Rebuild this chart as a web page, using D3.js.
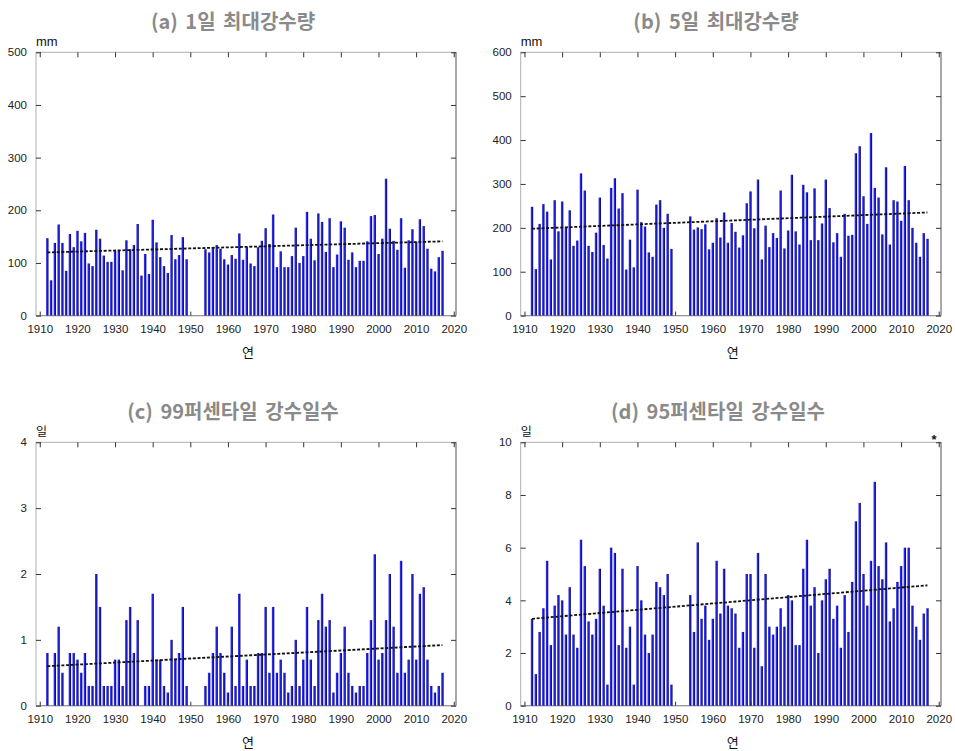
<!DOCTYPE html>
<html>
<head>
<meta charset="utf-8">
<script src="https://cdn.jsdelivr.net/npm/d3@7"></script>
<style>
  html, body { margin: 0; padding: 0; background: #fff; }
  svg { display: block; }
</style>
</head>
<body>
<svg id="chart" width="955" height="751"></svg>
<script>
// Years with observations: 1912–1949 and 1954–2017 (1950–1953 missing)
const yearsEarly = d3.range(1912, 1950);
const yearsLate = d3.range(1954, 2018);
const years = yearsEarly.concat(yearsLate);

// (a) annual maximum 1-day precipitation (mm)
const max1day = [
  147, 67, 138, 173, 138, 85, 155, 130, 161, 141, 157, 99, 94, 163, 146, 114, 102, 102, 123,
  124, 86, 143, 126, 134, 174, 76, 117, 79, 182, 139, 111, 94, 81, 153, 107, 115, 149, 107,
  126, 120, 130, 134, 127, 107, 97, 115, 108, 156, 106, 130, 99, 94, 130, 142, 166, 136, 192,
  92, 122, 92, 92, 113, 167, 100, 113, 197, 146, 105, 194, 178, 121, 185, 92, 116, 179, 167,
  106, 120, 92, 104, 104, 141, 189, 191, 117, 146, 260, 165, 142, 125, 185, 91, 143, 164,
  140, 183, 170, 127, 89, 84, 111, 123
];

// (b) annual maximum 5-day precipitation (mm)
const max5day = [
  248, 106, 209, 254, 237, 128, 263, 192, 260, 200, 240, 159, 171, 324, 285, 159, 145, 189,
  269, 161, 130, 291, 313, 244, 279, 105, 173, 110, 287, 213, 203, 144, 134, 253, 263, 200,
  232, 152,
  226, 196, 201, 197, 208, 151, 166, 222, 178, 235, 166, 211, 191, 155, 183, 256, 283, 199,
  310, 128, 205, 156, 188, 177, 285, 153, 194, 321, 192, 162, 298, 281, 172, 290, 172, 210,
  310, 245, 167, 188, 134, 232, 182, 184, 370, 386, 272, 209, 416, 291, 269, 185, 338, 162,
  263, 260, 216, 341, 263, 200, 166, 134, 188, 175
];

// (c) days above the 99th percentile (days)
const days99 = [
  0.8, 0, 0.8, 1.2, 0.5, 0, 0.8, 0.8, 0.7, 0.5, 0.8, 0.3, 0.3, 2.0, 1.5, 0.3, 0.3, 0.3, 0.7,
  0.7, 0.3, 1.3, 1.5, 0.8, 1.3, 0, 0.3, 0.3, 1.7, 0.7, 0.7, 0.3, 0.2, 1.0, 0.7, 0.8, 1.5, 0.3,
  0.3, 0.5, 0.8, 1.2, 0.8, 0.5, 0.2, 1.2, 0.3, 1.7, 0.3, 0.7, 0.3, 0.3, 0.8, 0.8, 1.5, 0.5,
  1.5, 0.5, 0.7, 0.5, 0.2, 0.3, 1.0, 0.3, 0.7, 1.5, 0.7, 0.3, 1.3, 1.7, 1.2, 1.3, 0.2, 0.5,
  0.8, 1.2, 0.5, 0.3, 0.2, 0.3, 0.3, 0.8, 1.3, 2.3, 0.7, 0.8, 1.3, 2.0, 1.2, 0.5, 2.2, 0.5,
  0.7, 2.0, 0.7, 1.7, 1.8, 0.7, 0.3, 0.2, 0.3, 0.5
];

// (d) days above the 95th percentile (days)
const days95 = [
  3.3, 1.2, 2.8, 3.7, 5.5, 2.3, 3.8, 4.2, 4.0, 2.7, 4.5, 2.7, 2.2, 6.3, 5.3, 3.2, 2.7, 3.3,
  5.2, 3.8, 0.8, 6.0, 5.8, 2.3, 5.2, 2.2, 3.0, 0.8, 5.3, 4.0, 2.7, 2.0, 2.7, 4.7, 4.5, 4.2,
  5.0, 0.8,
  4.2, 2.8, 6.2, 3.3, 3.8, 2.5, 3.3, 5.5, 3.5, 5.2, 3.8, 3.7, 3.5, 2.2, 2.8, 5.0, 5.0, 2.2,
  5.8, 1.5, 5.0, 3.0, 2.7, 3.0, 3.7, 3.0, 4.2, 4.0, 2.3, 2.3, 5.2, 6.3, 3.8, 4.5, 2.0, 4.0,
  4.8, 5.2, 3.3, 3.8, 2.2, 4.2, 2.8, 4.7, 7.0, 7.7, 5.0, 3.8, 5.5, 8.5, 5.3, 4.8, 6.2, 3.2,
  3.7, 4.7, 5.3, 6.0, 6.0, 3.8, 3.0, 2.5, 3.5, 3.7
];

// Linear trend values at 1912 and 2017
const trendYears = [1912, 2017];
const trend1day = [120, 141];
const trend5day = [198, 235];
const trend99 = [0.6, 0.92];
const trend95 = [3.3, 4.57];

// Axis settings
const xTickYears = d3.range(1910, 2021, 10);
const yTicks1day = d3.range(0, 501, 100);
const yTicks5day = d3.range(0, 601, 100);
const yTicks99 = d3.range(0, 5, 1);
const yTicks95 = d3.range(0, 11, 2);

const titles = ["(a) 1일 최대강수량", "(b) 5일 최대강수량", "(c) 99퍼센타일 강수일수", "(d) 95퍼센타일 강수일수"];
const units = ["mm", "mm", "일", "일"];
const xLabel = "연";

const panels = [
  { title: titles[0], unit: units[0], values: max1day, trend: trend1day, ticks: yTicks1day, ymax: 500,
    left: 36, right: 456, top: 52.3, bottom: 315.6, titleX: 233, titleY: 29 },
  { title: titles[1], unit: units[1], values: max5day, trend: trend5day, ticks: yTicks5day, ymax: 600,
    left: 520.7, right: 941, top: 52.3, bottom: 315.6, titleX: 716, titleY: 29 },
  { title: titles[2], unit: units[2], values: days99, trend: trend99, ticks: yTicks99, ymax: 4,
    left: 36, right: 456, top: 442.3, bottom: 705.7, titleX: 233, titleY: 419 },
  { title: titles[3], unit: units[3], values: days95, trend: trend95, ticks: yTicks95, ymax: 10,
    left: 520.7, right: 941, top: 442.3, bottom: 705.7, titleX: 718, titleY: 419, star: true }
];

const svg = d3.select("#chart");
const defs = svg.append("defs");
const grad = defs.append("linearGradient").attr("id", "barFill")
  .attr("x1", "0").attr("x2", "1").attr("y1", "0").attr("y2", "0");
grad.append("stop").attr("offset", "0%").attr("stop-color", "#3a3aff");
grad.append("stop").attr("offset", "45%").attr("stop-color", "#2222d8");
grad.append("stop").attr("offset", "100%").attr("stop-color", "#00005a");

const numFont = "'Liberation Sans', Arial, sans-serif";
const krFont = "'Noto Sans CJK KR', 'Noto Sans', sans-serif";

panels.forEach(p => {
  const g = svg.append("g");
  const x = d3.scaleLinear().domain([1909, 2020.6]).range([p.left, p.right]);
  const y = d3.scaleLinear().domain([0, p.ymax]).range([p.bottom, p.top]);
  const step = x(1911) - x(1910);
  const bw = step * 0.64;

  // Title
  g.append("text")
    .attr("x", p.titleX).attr("y", p.titleY)
    .attr("text-anchor", "middle")
    .attr("font-family", krFont).attr("font-weight", "bold").attr("font-size", 20)
    .attr("word-spacing", 3)
    .attr("fill", "#8a8a8a")
    .text(p.title);

  // Unit label
  g.append("text")
    .attr("x", p.left).attr("y", p.top - 6)
    .attr("font-family", p.unit === "mm" ? numFont : krFont)
    .attr("font-size", p.unit === "mm" ? 13 : 12)
    .attr("fill", "#111")
    .text(p.unit);

  // Frame
  g.append("rect")
    .attr("x", p.left).attr("y", p.top)
    .attr("width", p.right - p.left).attr("height", p.bottom - p.top)
    .attr("fill", "none").attr("stroke", "#b0b0b0").attr("stroke-width", 1);
  g.append("line")
    .attr("x1", p.right).attr("x2", p.right).attr("y1", p.top).attr("y2", p.bottom)
    .attr("stroke", "#999").attr("stroke-width", 1.5);
  g.append("line")
    .attr("x1", p.left).attr("x2", p.right).attr("y1", p.bottom).attr("y2", p.bottom)
    .attr("stroke", "#999").attr("stroke-width", 1.2);

  // Bars
  const data = years.map((yr, i) => ({ year: yr, value: p.values[i] }));
  g.append("g").selectAll("rect").data(data.filter(d => d.value > 0)).join("rect")
    .attr("x", d => x(d.year) - bw / 2)
    .attr("y", d => y(d.value))
    .attr("width", bw)
    .attr("height", d => y(0) - y(d.value))
    .attr("fill", "url(#barFill)");

  // Y axis (left, inward ticks)
  const yAxisL = d3.axisLeft(y).tickValues(p.ticks).tickSize(-5).tickPadding(9).tickFormat(d3.format("d"));
  const gl = g.append("g").attr("transform", `translate(${p.left},0)`).call(yAxisL);
  gl.select(".domain").remove();
  gl.selectAll(".tick line").attr("stroke", "#333");
  gl.selectAll(".tick text").attr("font-family", numFont).attr("font-size", 11.5).attr("fill", "#222");

  // Y axis (right, inward ticks)
  const yAxisR = d3.axisRight(y).tickValues(p.ticks).tickSize(-5).tickFormat("");
  const gr = g.append("g").attr("transform", `translate(${p.right},0)`).call(yAxisR);
  gr.select(".domain").remove();
  gr.selectAll(".tick line").attr("stroke", "#333");

  // X axis (bottom labels, inward ticks)
  const xAxisB = d3.axisBottom(x).tickValues(xTickYears).tickSize(-4).tickPadding(9).tickFormat(d3.format("d"));
  const gb = g.append("g").attr("transform", `translate(0,${p.bottom})`).call(xAxisB);
  gb.select(".domain").remove();
  gb.selectAll(".tick line").attr("stroke", "#333");
  gb.selectAll(".tick text").attr("font-family", numFont).attr("font-size", 11.5).attr("fill", "#222");

  // X axis (top, inward ticks)
  const xAxisT = d3.axisTop(x).tickValues(xTickYears).tickSize(-5).tickFormat("");
  const gt = g.append("g").attr("transform", `translate(0,${p.top})`).call(xAxisT);
  gt.select(".domain").remove();
  gt.selectAll(".tick line").attr("stroke", "#333");

  // Trend line
  const trendData = trendYears.map((yr, i) => [yr, p.trend[i]]);
  g.append("path")
    .datum(trendData)
    .attr("d", d3.line().x(d => x(d[0])).y(d => y(d[1])))
    .attr("fill", "none").attr("stroke", "#111").attr("stroke-width", 1.8)
    .attr("stroke-dasharray", "3,1.7");

  // X label
  g.append("text")
    .attr("x", (p.left + p.right) / 2 + 2).attr("y", p.bottom + 41)
    .attr("text-anchor", "middle")
    .attr("font-family", krFont).attr("font-size", 13).attr("fill", "#111")
    .text(xLabel);

  if (p.star) {
    g.append("text")
      .attr("x", p.right - 7).attr("y", p.top + 2)
      .attr("text-anchor", "middle")
      .attr("font-family", numFont).attr("font-weight", "bold").attr("font-size", 13).attr("fill", "#111")
      .text("*");
  }
});
</script>
</body>
</html>
